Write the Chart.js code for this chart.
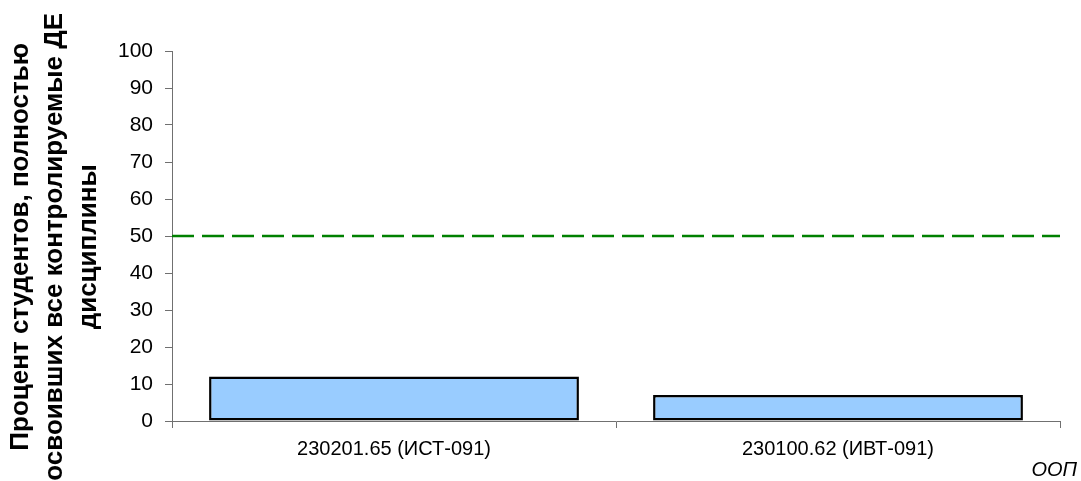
<!DOCTYPE html>
<html>
<head>
<meta charset="utf-8">
<script src="https://cdn.jsdelivr.net/npm/chart.js@4"></script>
<style>
  body { margin: 0; background: #fff; }
  #wrap { width: 1081px; height: 481px; }
</style>
</head>
<body>
<div id="wrap"><canvas id="grafico"></canvas></div>
<script>
// данные диаграммы
const programmy = ['230201.65 (ИСТ-091)', '230100.62 (ИВТ-091)']
const procenty = [12, 7]
const porogX = [0, 1]
const porogY = [50, 50]
// пробелы в конце немного сдвигают подпись вниз, как в оригинале
const yTitle = ['Процент студентов, полностью   ', 'освоивших все контролируемые ДЕ   ', 'дисциплины   ']
const xTitle = 'ООП'

const osColor = '#707070'

// подпись "ООП" справа внизу
const podpisOOP = {
  id: 'podpisOOP',
  afterDraw(chart) {
    const ctx = chart.ctx
    const area = chart.chartArea
    ctx.save()
    ctx.font = 'italic 20px "Liberation Sans", Arial, sans-serif'
    ctx.fillStyle = '#000'
    ctx.textAlign = 'right'
    ctx.textBaseline = 'alphabetic'
    ctx.fillText(xTitle, area.right + 17, area.bottom + 55)
    ctx.restore()
  }
}

document.addEventListener('DOMContentLoaded', function () {
  const ctx = document.getElementById('grafico')

  new Chart(ctx, {
    type: 'bar',
    data: {
      labels: programmy,
      datasets: [{
        type: 'bar',
        data: procenty,
        backgroundColor: '#99CCFF',
        borderColor: '#000000',
        borderWidth: 2.5,
        borderSkipped: false,
        grouped: false,
        barPercentage: 0.833,
        categoryPercentage: 1,
        order: 2
      }, {
        type: 'line',
        xAxisID: 'x2',
        data: porogX.map((x, i) => ({ x: x, y: porogY[i] })),
        borderColor: '#008000',
        borderWidth: 2.5,
        borderDash: [22, 8],
        pointRadius: 0,
        fill: false,
        order: 1
      }]
    },
    options: {
      responsive: true,
      maintainAspectRatio: false,
      animation: false,
      layout: { padding: { top: 51, right: 21, bottom: 0, left: 0 } },
      plugins: {
        legend: { display: false },
        tooltip: { enabled: false }
      },
      scales: {
        x: {
          grid: {
            display: true,
            offset: true,
            drawOnChartArea: false,
            drawTicks: true,
            tickLength: 7,
            color: osColor
          },
          border: { display: true, color: osColor, width: 1 },
          ticks: {
            color: '#000',
            padding: 9,
            maxRotation: 0,
            font: { family: '"Liberation Sans", Arial, sans-serif', size: 20 }
          },
          afterFit(scale) { scale.height = 60 }
        },
        x2: {
          type: 'linear',
          display: false,
          offset: false,
          min: 0,
          max: 1
        },
        y: {
          min: 0,
          max: 100,
          grid: {
            display: true,
            drawOnChartArea: false,
            drawTicks: true,
            tickLength: 7,
            color: osColor
          },
          border: { display: true, color: osColor, width: 1 },
          ticks: {
            stepSize: 10,
            color: '#000',
            padding: 12,
            font: { family: '"Liberation Sans", Arial, sans-serif', size: 21 }
          },
          title: {
            display: true,
            text: yTitle,
            color: '#000',
            padding: { top: 4, bottom: 0 },
            font: { family: '"Liberation Sans", Arial, sans-serif', size: 26, weight: 'bold', lineHeight: 1.3 }
          },
          afterFit(scale) { scale.width = 172 }
        }
      }
    },
    plugins: [podpisOOP]
  })
})
</script>
</body>
</html>
